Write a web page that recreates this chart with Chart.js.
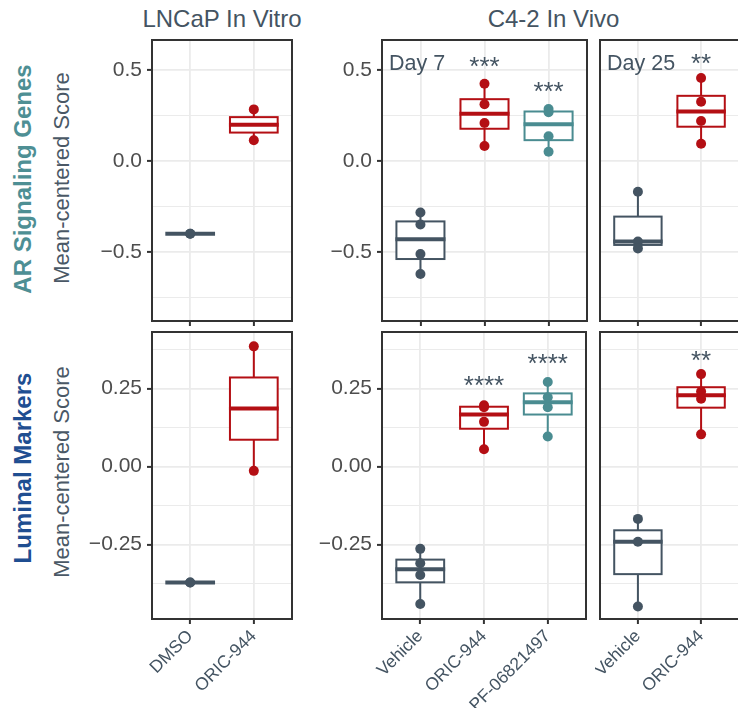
<!DOCTYPE html>
<html><head><meta charset="utf-8">
<script src="https://cdn.jsdelivr.net/npm/chart.js@4.4.1/dist/chart.umd.min.js"></script>
<style>
html,body{margin:0;padding:0;background:#fff;}
#wrap{position:relative;width:738px;height:708px;overflow:hidden;font-family:"Liberation Sans",Arial,sans-serif;}
canvas{position:absolute;}
.txt{position:absolute;white-space:nowrap;text-align:center;}
</style></head><body><div id="wrap"></div>
<script>
// ---------------- DATA ----------------
const lncapCats = ["DMSO", "ORIC-944"];
const day7Cats = ["Vehicle", "ORIC-944", "PF-06821497"];
const day25Cats = ["Vehicle", "ORIC-944"];

// AR Signaling Genes (per-sample mean-centered scores)
const arLncap = [[-0.400, -0.400], [0.114, 0.284]];
const arDay7 = [[-0.283, -0.349, -0.512, -0.622], [0.425, 0.312, 0.209, 0.083], [0.286, 0.268, 0.136, 0.051]];
const arDay25 = [[-0.169, -0.443, -0.481], [0.457, 0.326, 0.220, 0.095]];

// Luminal Markers
const lumLncap = [[-0.372, -0.372], [0.385, -0.014]];
const lumDay7 = [[-0.264, -0.310, -0.348, -0.441], [0.196, 0.190, 0.143, 0.055], [0.271, 0.222, 0.190, 0.096]];
const lumDay25 = [[-0.168, -0.241, -0.449], [0.296, 0.240, 0.217, 0.103]];

// significance labels and their y values
const arDay7Stars = ["", "***", "***"];
const arDay7StarY = [null, 0.473, 0.336];
const arDay25Stars = ["", "**"];
const arDay25StarY = [null, 0.491];
const lumDay7Stars = ["", "****", "****"];
const lumDay7StarY = [null, 0.233, 0.304];
const lumDay25Stars = ["", "**"];
const lumDay25StarY = [null, 0.313];

// axes
const arRange = [-0.8806, 0.666];
const arTicks = [-0.5, 0, 0.5];
const arTickLabels = ["\u22120.5", "0.0", "0.5"];
const arMinor = [-0.75, -0.25, 0.25];
const lumRange = [-0.4888, 0.431];
const lumTicks = [-0.25, 0, 0.25];
const lumTickLabels = ["\u22120.25", "0.00", "0.25"];
const lumMinor = [-0.375, -0.125, 0.125, 0.375];

// ---------------- STYLE ----------------
const FONT = '"Liberation Sans", Arial, sans-serif';
Chart.defaults.font.family = FONT;
const COL = {"DMSO": "#445462", "Vehicle": "#445462", "ORIC-944": "#b40f14", "PF-06821497": "#4a8c91"};
const TEXTCOL = "#445462";
const wrap = document.getElementById('wrap');

function q7(s, p) { const h = (s.length - 1) * p; const lo = Math.floor(h), hi = Math.ceil(h); return s[lo] + (h - lo) * (s[hi] - s[lo]); }
function stats(arr) {
  const s = arr.slice().sort((a, b) => a - b);
  const q1 = q7(s, 0.25), med = q7(s, 0.5), q3 = q7(s, 0.75), iqr = q3 - q1;
  const inr = s.filter(v => v >= q1 - 1.5 * iqr && v <= q3 + 1.5 * iqr);
  return {q1, med, q3, lo: Math.min(...inr), hi: Math.max(...inr)};
}

function addText(str, cx, baseY, size, color, bold, rot) {
  const d = document.createElement('div');
  d.className = 'txt';
  d.textContent = str;
  const w = 400;
  d.style.width = w + 'px';
  d.style.fontSize = size + 'px';
  d.style.lineHeight = size + 'px';
  d.style.color = color;
  if (bold) d.style.fontWeight = 'bold';
  if (!rot) {
    d.style.left = (cx - w / 2) + 'px';
    d.style.top = (baseY - 0.8465 * size) + 'px';
  } else {
    const centerX = baseY - 0.3465 * size;
    d.style.left = (centerX - w / 2) + 'px';
    d.style.top = (cx - size / 2) + 'px';
    d.style.transform = 'rotate(-90deg)';
    d.style.transformOrigin = '50% 50%';
  }
  wrap.appendChild(d);
}

function zeroPad(s) { s.paddingTop = 0; s.paddingBottom = 0; s.paddingLeft = 0; s.paddingRight = 0; }

function makePanel(o) {
  const cv = document.createElement('canvas');
  let W = o.yW + o.plotW + 8;
  let H = 4 + o.plotH + o.xH;
  cv.width = W; cv.height = H;
  cv.style.width = W + 'px'; cv.style.height = H + 'px';
  wrap.appendChild(cv);

  const pts = [], cols = [];
  o.groups.forEach((g, i) => g.forEach(v => { pts.push({x: i + 1, y: v}); cols.push(COL[o.cats[i]]); }));
  const majors = o.ticks, allT = o.ticks.concat(o.minor).sort((a, b) => a - b);
  const isMajor = v => majors.some(m => Math.abs(m - v) < 1e-9);

  const plug = {
    id: 'boxes',
    beforeDatasetsDraw(chart) {
      const {ctx, scales: {x, y}} = chart;
      ctx.save();
      o.groups.forEach((g, i) => {
        const st = stats(g), c = COL[o.cats[i]];
        const xc = x.getPixelForValue(i + 1);
        const xl = x.getPixelForValue(i + 1 - 0.375), xr = x.getPixelForValue(i + 1 + 0.375);
        ctx.strokeStyle = c; ctx.lineWidth = 2;
        ctx.beginPath();
        ctx.moveTo(xc, y.getPixelForValue(st.q3)); ctx.lineTo(xc, y.getPixelForValue(st.hi));
        ctx.moveTo(xc, y.getPixelForValue(st.q1)); ctx.lineTo(xc, y.getPixelForValue(st.lo));
        ctx.stroke();
        const yt = y.getPixelForValue(st.q3), yb = y.getPixelForValue(st.q1);
        ctx.fillStyle = '#ffffff';
        ctx.fillRect(xl, yt, xr - xl, yb - yt);
        ctx.strokeRect(xl, yt, xr - xl, yb - yt);
        ctx.lineWidth = 4;
        ctx.beginPath();
        const ym = y.getPixelForValue(st.med);
        ctx.moveTo(xl - 1, ym); ctx.lineTo(xr + 1, ym);
        ctx.stroke();
      });
      ctx.restore();
    },
    afterDatasetsDraw(chart) {
      const {ctx, chartArea: a, scales: {x, y}} = chart;
      ctx.save();
      ctx.strokeStyle = '#333333'; ctx.lineWidth = 2;
      ctx.strokeRect(a.left, a.top, a.right - a.left, a.bottom - a.top);
      ctx.fillStyle = TEXTCOL;
      ctx.textBaseline = 'alphabetic';
      if (o.tag) {
        ctx.font = '21.5px ' + FONT; ctx.textAlign = 'left';
        ctx.fillText(o.tag, a.left + 7, a.top + 30);
      }
      if (o.stars) {
        ctx.font = '26px ' + FONT; ctx.textAlign = 'center';
        o.stars.forEach((s, i) => { if (s) ctx.fillText(s, x.getPixelForValue(i + 1), y.getPixelForValue(o.starY[i])); });
      }
      ctx.restore();
    }
  };

  const chart = new Chart(cv, {
    type: 'scatter',
    data: {datasets: [{data: pts, pointRadius: 5, pointHoverRadius: 5, pointBackgroundColor: cols, pointBorderColor: cols, pointBorderWidth: 0}]},
    options: {
      responsive: false, animation: false, events: [], devicePixelRatio: 1,
      layout: {padding: {left: 4, right: 4, top: 4, bottom: 0}},
      plugins: {legend: {display: false}, tooltip: {enabled: false}},
      scales: {
        x: {
          type: 'linear', min: 0.4, max: o.cats.length + 0.6,
          afterBuildTicks: s => { s.ticks = o.cats.map((c, i) => ({value: i + 1})); },
          afterFit: s => { s.height = o.xH; zeroPad(s); },
          grid: {color: '#ebebeb', lineWidth: 1.8, drawTicks: true, tickLength: 5, tickColor: '#333333', tickWidth: 2},
          border: {display: false},
          ticks: {display: o.showX, autoSkip: false, minRotation: 45, maxRotation: 45, padding: 2, color: TEXTCOL,
                  font: {size: 17.5, family: FONT}, callback: v => o.cats[Math.round(v) - 1]}
        },
        y: {
          type: 'linear', min: o.range[0], max: o.range[1],
          afterBuildTicks: s => { s.ticks = allT.map(v => ({value: v})); },
          afterFit: s => { s.width = o.yW; zeroPad(s); },
          grid: {color: '#ebebeb', lineWidth: c => (c.tick && isMajor(c.tick.value)) ? 1.8 : 1,
                 drawTicks: o.showY, tickLength: 5,
                 tickColor: c => (c.tick && isMajor(c.tick.value)) ? '#333333' : 'rgba(0,0,0,0)', tickWidth: 2},
          border: {display: false},
          ticks: {display: o.showY, autoSkip: false, padding: 5, color: '#4d4d4d', font: {size: 21, family: FONT},
                  callback: v => { const k = majors.findIndex(m => Math.abs(m - v) < 1e-9); return k >= 0 ? o.labels[k] : ''; }}
        }
      }
    },
    plugins: [plug]
  });

  // make the chart area land exactly on the panel rectangle
  for (let it = 0; it < 3; it++) {
    const a = chart.chartArea;
    const dW = o.plotW - (a.right - a.left), dH = o.plotH - (a.bottom - a.top);
    if (Math.abs(dW) < 0.5 && Math.abs(dH) < 0.5) break;
    W += dW; H += dH;
    cv.style.width = W + 'px'; cv.style.height = H + 'px';
    chart.resize(W, H);
  }
  const a = chart.chartArea;
  cv.style.left = (o.left - a.left) + 'px';
  cv.style.top = (o.top - a.top) + 'px';
}

const topRow = {top: 40, plotH: 281, xH: 12, range: arRange, ticks: arTicks, labels: arTickLabels, minor: arMinor, showX: false};
const botRow = {top: 332, plotH: 287, xH: 95, range: lumRange, ticks: lumTicks, labels: lumTickLabels, minor: lumMinor, showX: true};

makePanel(Object.assign({}, topRow, {left: 152, yW: 72, plotW: 141, cats: lncapCats, groups: arLncap, showY: true}));
makePanel(Object.assign({}, topRow, {left: 382, yW: 72, plotW: 205, cats: day7Cats, groups: arDay7, showY: true, tag: 'Day 7', stars: arDay7Stars, starY: arDay7StarY}));
makePanel(Object.assign({}, topRow, {left: 600, yW: 0, plotW: 141, cats: day25Cats, groups: arDay25, showY: false, tag: 'Day 25', stars: arDay25Stars, starY: arDay25StarY}));
makePanel(Object.assign({}, botRow, {left: 152, yW: 72, plotW: 141, cats: lncapCats, groups: lumLncap, showY: true}));
makePanel(Object.assign({}, botRow, {left: 382, yW: 72, plotW: 205, cats: day7Cats, groups: lumDay7, showY: true, stars: lumDay7Stars, starY: lumDay7StarY}));
makePanel(Object.assign({}, botRow, {left: 600, yW: 0, plotW: 141, cats: day25Cats, groups: lumDay25, showY: false, stars: lumDay25Stars, starY: lumDay25StarY}));

addText('LNCaP In Vitro', 222, 27.3, 24, TEXTCOL, false, false);
addText('C4-2 In Vivo', 553.5, 27.3, 24, TEXTCOL, false, false);
addText('AR Signaling Genes', 179, 31.7, 24, '#4e8f94', true, true);
addText('Mean-centered Score', 177.5, 69.3, 22, '#4a5866', false, true);
addText('Luminal Markers', 467.5, 31, 24, '#1f4e91', true, true);
addText('Mean-centered Score', 471.7, 69.8, 22, '#4a5866', false, true);
</script></body></html>
